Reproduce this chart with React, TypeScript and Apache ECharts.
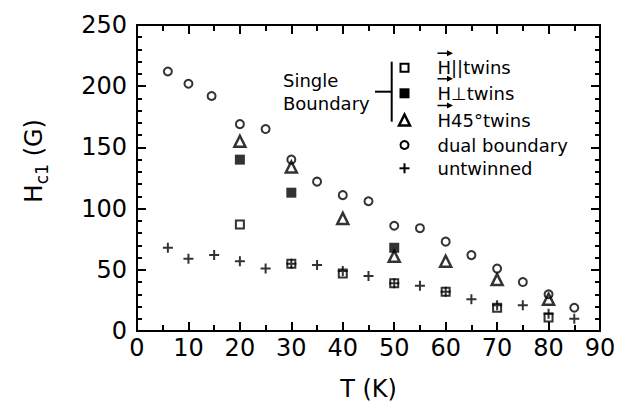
import React, { useEffect, useRef } from "react";
import * as echarts from "echarts";

// ---- data ----
const tDual = [6, 10, 14.5, 20, 25, 30, 35, 40, 45, 50, 55, 60, 65, 70, 75, 80, 85];
const hcDual = [212, 202, 192, 169, 165, 140, 122, 111, 106, 86, 84, 73, 62, 51, 40, 30, 19];

const tParallel = [20, 30, 40, 50, 60, 70, 80];
const hcParallel = [87, 55, 47, 39, 32, 19, 11];

const tPerp = [20, 30, 50];
const hcPerp = [140, 113, 68];

const t45 = [20, 30, 40, 50, 60, 70, 80];
const hc45 = [155, 134, 92, 61, 57, 42, 26];

const tUntwinned = [6, 10, 15, 20, 25, 30, 35, 40, 45, 50, 55, 60, 65, 70, 75, 80, 85];
const hcUntwinned = [68, 59, 62, 57, 51, 55, 54, 49, 45, 39, 37, 32, 26, 21, 21, 14, 10];

const xTicks = { min: 0, max: 90, interval: 10 };
const yTicks = { min: 0, max: 250, interval: 50 };

const legendNames = ["H||twins", "H\u22A5twins", "H45\u00B0twins", "dual boundary", "untwinned"];

const FONT = "DejaVu Sans";
const PLUS = "path://M4,0H6V4H10V6H6V10H4V6H0V4H4Z";

const zip = (xs: number[], ys: number[]) => xs.map((x, i) => [x, ys[i]]);

export default function App() {
  const ref = useRef<HTMLDivElement>(null);
  useEffect(() => {
    if (!ref.current) return;
    const chart = echarts.init(ref.current, null, { renderer: "svg" });

    const axisCommon = {
      type: "value" as const,
      splitLine: { show: false },
      axisLine: { show: true, onZero: false, lineStyle: { color: "#000", width: 2 } },
      axisTick: { show: true, inside: true, length: 9, lineStyle: { color: "#000", width: 2 } },
      minorTick: { show: true, length: 5, lineStyle: { color: "#000", width: 2 } },
      minorSplitLine: { show: false },
    };

    const legendX = 404.5;
    const textX = 437.5;
    const rows = [67.7, 93.3, 120, 145, 168.3];
    const arrow = (y: number) => [
      { type: "line", shape: { x1: 437.5, y1: y, x2: 451, y2: y }, style: { stroke: "#000", lineWidth: 1.5 } },
      { type: "polygon", shape: { points: [[453, y], [447, y - 3], [447, y + 3]] }, style: { fill: "#000" } },
    ];

    const graphic: any[] = [
      // y axis title with subscript
      {
        type: "text",
        x: 31,
        y: 161,
        rotation: Math.PI / 2,
        style: {
          text: "{h|H}{s|c1}{n| (G)}",
          align: "center",
          verticalAlign: "middle",
          rich: {
            h: { fontFamily: FONT, fontSize: 25, lineHeight: 30, fill: "#000", verticalAlign: "bottom" },
            s: { fontFamily: FONT, fontSize: 17, lineHeight: 17, fill: "#000", verticalAlign: "bottom", padding: [0, 0, -4, 0] },
            n: { fontFamily: FONT, fontSize: 24, lineHeight: 30, fill: "#000", verticalAlign: "bottom" },
          },
        },
      },
      // bracket
      { type: "line", shape: { x1: 391.7, y1: 61.7, x2: 391.7, y2: 121.7 }, style: { stroke: "#000", lineWidth: 2 } },
      { type: "line", shape: { x1: 375, y1: 91.7, x2: 391.7, y2: 91.7 }, style: { stroke: "#000", lineWidth: 2 } },
      { type: "text", x: 283, y: 80, style: { text: "Single", fontFamily: FONT, fontSize: 18, fill: "#000", verticalAlign: "middle" } },
      { type: "text", x: 283, y: 103, style: { text: "Boundary", fontFamily: FONT, fontSize: 18, fill: "#000", verticalAlign: "middle" } },
      // legend markers
      { type: "rect", shape: { x: legendX - 4, y: rows[0] - 4, width: 8, height: 8 }, style: { fill: "none", stroke: "#000", lineWidth: 2 } },
      { type: "rect", shape: { x: legendX - 5, y: rows[1] - 5, width: 10, height: 10 }, style: { fill: "#000" } },
      {
        type: "polygon",
        shape: { points: [[legendX, rows[2] - 5.5], [legendX + 5.5, rows[2] + 5.5], [legendX - 5.5, rows[2] + 5.5]] },
        style: { fill: "none", stroke: "#000", lineWidth: 2.5 },
      },
      { type: "circle", shape: { cx: legendX, cy: rows[3], r: 4 }, style: { fill: "none", stroke: "#000", lineWidth: 2 } },
      { type: "line", shape: { x1: legendX - 5, y1: rows[4], x2: legendX + 5, y2: rows[4] }, style: { stroke: "#000", lineWidth: 2 } },
      { type: "line", shape: { x1: legendX, y1: rows[4] - 5, x2: legendX, y2: rows[4] + 5 }, style: { stroke: "#000", lineWidth: 2 } },
      ...legendNames.map((name, i) => ({
        type: "text",
        x: textX,
        y: rows[i],
        style: { text: name, fontFamily: FONT, fontSize: 18, fill: "#000", verticalAlign: "middle" },
      })),
      ...arrow(rows[0] - 14.5),
      ...arrow(rows[1] - 14.5),
      ...arrow(rows[2] - 14.5),
    ];

    const option: any = {
      animation: false,
      backgroundColor: "#fff",
      grid: { left: 137, right: 21, top: 25, bottom: 68, containLabel: false },
      xAxis: [
        {
          ...axisCommon,
          ...xTicks,
          position: "bottom",
          minorTick: { ...axisCommon.minorTick, splitNumber: 2, length: 6 },
          axisLabel: { color: "#000", fontFamily: FONT, fontSize: 24, margin: 5 },
          name: "T (K)",
          nameLocation: "middle",
          nameGap: 46,
          nameTextStyle: { color: "#000", fontFamily: FONT, fontSize: 24 },
        },
        {
          ...axisCommon,
          ...xTicks,
          position: "top",
          minorTick: { ...axisCommon.minorTick, splitNumber: 2, length: 6 },
          axisLabel: { show: false },
        },
      ],
      yAxis: [
        {
          ...axisCommon,
          ...yTicks,
          position: "left",
          minorTick: { ...axisCommon.minorTick, splitNumber: 5 },
          axisLabel: { color: "#000", fontFamily: FONT, fontSize: 24, margin: 10 },
        },
        {
          ...axisCommon,
          ...yTicks,
          position: "right",
          minorTick: { ...axisCommon.minorTick, splitNumber: 5 },
          axisLabel: { show: false },
        },
      ],
      series: [
        {
          name: legendNames[3],
          type: "scatter",
          data: zip(tDual, hcDual),
          symbol: "circle",
          symbolSize: 8,
          itemStyle: { color: "transparent", borderColor: "#000", borderWidth: 2 },
        },
        {
          name: legendNames[0],
          type: "scatter",
          data: zip(tParallel, hcParallel),
          symbol: "rect",
          symbolSize: 8,
          itemStyle: { color: "transparent", borderColor: "#000", borderWidth: 2 },
        },
        {
          name: legendNames[1],
          type: "scatter",
          data: zip(tPerp, hcPerp),
          symbol: "rect",
          symbolSize: 10,
          itemStyle: { color: "#000" },
        },
        {
          name: legendNames[2],
          type: "scatter",
          data: zip(t45, hc45),
          symbol: "triangle",
          symbolSize: 11,
          itemStyle: { color: "transparent", borderColor: "#000", borderWidth: 2.5 },
        },
        {
          name: legendNames[4],
          type: "scatter",
          data: zip(tUntwinned, hcUntwinned),
          symbol: PLUS,
          symbolSize: 10,
          itemStyle: { color: "#000" },
        },
      ],
      graphic,
    };

    chart.setOption(option);
    return () => chart.dispose();
  }, []);

  return (
    <div
      ref={ref}
      style={{ position: "fixed", left: 0, top: 0, width: 621, height: 406, background: "#fff" }}
    />
  );
}
